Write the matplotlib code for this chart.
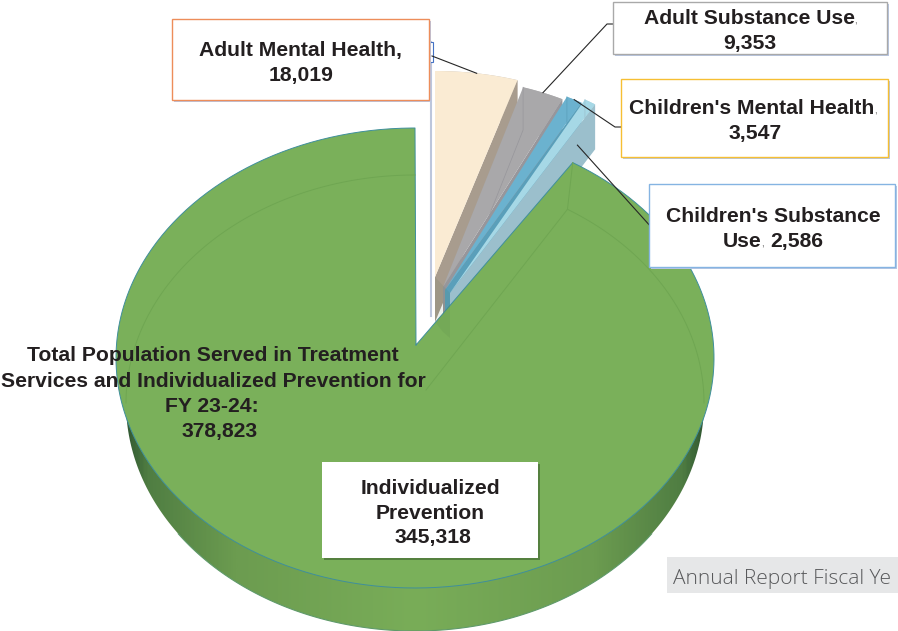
import numpy as np
import matplotlib
matplotlib.use("Agg")
from matplotlib import pyplot as plt
from matplotlib.colors import LinearSegmentedColormap
from matplotlib.patches import Polygon, Rectangle

# data
labels = ["Adult Mental Health", "Adult Substance Use", "Children's Mental Health", "Children's Substance Use"]
values = [18019, 9353, 3547, 2586]
prevention = 345318
total = 378823

# look of the small slices
colors = ["#faebd3", "#a9a8aa", "#6bb2cf", "#a6d8e6"]
wall_colors = ["#a89c8e", "#97969b", "#5a9fba", "#9bbfcc"]
apexes = [(435, 277), (443, 287), (445, 290), (450, 293)]
radii = [(280, 206), (272, 209), (278, 215), (275, 222)]
DEPTH = 45

GREEN = "#7ab05a"
EDGE = "#3f8f9c"
TXT = "#231f20"

plt.rcParams["font.family"] = ["Liberation Sans", "DejaVu Sans"]
FS = 15.2

fig = plt.figure(figsize=(8.98, 6.31), dpi=100)
ax = fig.add_axes([0, 0, 1, 1])
ax.set_xlim(0, 898)
ax.set_ylim(631, 0)
ax.axis("off")


def rim(center, r, deg):
    t = np.radians(deg)
    return np.column_stack([center[0] + r[0] * np.sin(t), center[1] - r[1] * np.cos(t)])


# angles follow the values
sweeps = [360 * v / total for v in values]
edges = np.concatenate([[0], np.cumsum(sweeps)])
small_sweep = edges[-1]

# green pie geometry
top_c, top_r = (415, 358), (299, 230)
bot_c, bot_r = (415, 403), (289, 228)
green_apex = (416, 345)

# side wall of the pie with a horizontal gradient
wall_cmap = LinearSegmentedColormap.from_list(
    "wall", [(0, "#24482b"), (0.05, "#4f7d42"), (0.2, "#6c9c50"), (0.5, "#79ad58"),
             (0.8, "#6c9c50"), (0.95, "#4f7d42"), (1, "#24482b")])
grad = np.linspace(0, 1, 400).reshape(1, -1)
im = ax.imshow(grad, cmap=wall_cmap, extent=(top_c[0] - top_r[0], top_c[0] + top_r[0], 631, 340),
               aspect="auto", zorder=1)
ax.set_xlim(0, 898)
ax.set_ylim(631, 0)
wall_pts = np.vstack([[[top_c[0] + top_r[0], top_c[1]]],
                      rim(bot_c, bot_r, np.linspace(90, 270, 200)),
                      [[top_c[0] - top_r[0], top_c[1]]]])
wall_poly = Polygon(wall_pts, closed=True, transform=ax.transData, fc="none", ec="none")
ax.add_patch(wall_poly)
im.set_clip_path(wall_poly)
ax.plot(*rim(bot_c, bot_r, np.linspace(125, 235, 120)).T, color="#5f9a6a", lw=0.8, zorder=1.5)

# thin line and small tab behind the orange box
ax.plot([430.5, 430.5], [42, 316], color="#bcc6dc", lw=1.5, zorder=1)
ax.add_patch(Rectangle((428, 42), 5, 20, fc="white", ec="#4472c4", lw=0.8, zorder=1))

# exploded slices
down = np.array([0, DEPTH])
for i in range(len(values)):
    th = np.linspace(edges[i], edges[i + 1], 20)
    c, r = apexes[i], radii[i]
    top = rim(c, r, th)
    end = top[-1]
    # far end wall, next slice covers most of it
    ax.add_patch(Polygon([end, c, np.array(c) + down, end + down], fc=wall_colors[i], ec="none", zorder=2 + i * 0.1))
    # outer rim wall
    ax.add_patch(Polygon(np.vstack([top, (top + down)[::-1]]), fc=wall_colors[i], ec="none", alpha=0.7, zorder=2 + i * 0.1))
    ax.add_patch(Polygon(np.vstack([[c], top]), fc=colors[i], ec="none", zorder=2.05 + i * 0.1))
    # see-through bottom outline
    if i:
        ax.plot(*np.vstack([[top[0]], [top[0] + down * 0.95], [np.array(c) + down]]).T,
                color=wall_colors[i], lw=0.5, zorder=2.07 + i * 0.1)

# green top face
th = np.linspace(small_sweep, 360, 500)
top_arc = rim(top_c, top_r, th)
ax.add_patch(Polygon(np.vstack([[green_apex], top_arc]), fc=GREEN, ec="none", zorder=3))
ax.plot(*np.vstack([[green_apex], top_arc, [green_apex]]).T, color=EDGE, lw=0.7, zorder=3.1)

# slice tips showing through the green
tips = [apexes[0], np.array(apexes[0]) + down, np.array(apexes[1]) + down, np.array(apexes[3]) + down, apexes[3]]
ax.add_patch(Polygon(tips, fc="#3f6a3a", ec="none", alpha=0.09, zorder=3.15))

# faint bottom outline seen through the green
bot_start = rim(bot_c, bot_r, small_sweep)[0]
top_start = top_arc[0]
line_kw = dict(color="#6fa652", lw=0.7, zorder=3.2)
ax.plot(*rim(bot_c, bot_r, np.linspace(small_sweep, 90, 80)).T, **line_kw)
ax.plot(*rim(bot_c, bot_r, np.linspace(270, 360, 80)).T, **line_kw)
ax.plot([top_start[0], bot_start[0]], [top_start[1], bot_start[1]], **line_kw)
ax.plot([bot_start[0], green_apex[0] + 10], [bot_start[1], green_apex[1] + DEPTH], **line_kw)

# leader lines, ending on the slices
mids = [(edges[i] + edges[i + 1]) / 2 for i in range(4)]
hits = [rim(apexes[i], radii[i], mids[i])[0] for i in range(3)]
c3 = rim(apexes[3], (radii[3][0] * 0.91, radii[3][1] * 0.91), mids[3])[0] + [0, 26]
leaders = [[(432, 56), hits[0]],
           [(613, 24), (607, 24), hits[1]],
           [(621, 127), (615, 127), hits[2]],
           [(652, 228), c3]]
for pts in leaders:
    ax.plot(*np.array(pts).T, color="#262626", lw=0.8, zorder=5)


# label boxes
def box(x0, y0, x1, y1, ec, shadow="#b9c7e4"):
    ax.add_patch(Rectangle((x0 + 2, y0 + 2), x1 - x0, y1 - y0, fc=shadow, ec="none", zorder=6))
    ax.add_patch(Rectangle((x0, y0), x1 - x0, y1 - y0, fc="white", ec=ec, lw=1.0, zorder=6.1))


box(172, 19, 429, 100, "#ed8d5a")
box(613, 2, 887, 54, "#a9a9a9")
box(621, 79, 888, 157, "#f6bf33")
box(649, 184, 895, 267, "#85b4e2")
box(322, 462, 538, 558, "none", shadow="#55803f")
ax.add_patch(Rectangle((667, 557), 231, 36, fc="#e6e7e8", ec="none", zorder=6))

kw = dict(fontsize=FS, fontweight="bold", color=TXT, ha="center", va="baseline", zorder=7)
fmt = lambda v: f"{v:,}"


def small_comma(t):
    ax.annotate(",", xy=(1, 0.12), xycoords=t, fontsize=7, color="#555555", va="bottom", ha="left", zorder=7)


ax.text(300.5, 56, labels[0] + ",", **kw)
ax.text(301, 81, fmt(values[0]), **kw)

t = ax.text(749, 24, labels[1], **kw)
small_comma(t)
ax.text(750, 49, fmt(values[1]), **kw)

t = ax.text(752, 114, labels[2], **kw)
small_comma(t)
ax.text(755, 139, fmt(values[2]), **kw)

ax.text(773, 222, "Children's Substance", **kw)
t = ax.text(761, 247, "Use", **{**kw, "ha": "right"})
small_comma(t)
ax.text(770, 247, fmt(values[3]), **{**kw, "ha": "left"})

ax.text(430, 494, "Individualized", **kw)
ax.text(430, 519, "Prevention", **kw)
ax.text(433, 543, fmt(prevention), **kw)

ax.text(213, 361, "Total Population Served in Treatment", **kw)
ax.text(213, 387, "Services and Individualized Prevention for", **kw)
ax.text(212, 412, "FY 23-24:", **kw)
ax.text(219.5, 437, fmt(total), **kw)

# the reference crops this footer at the page edge
ax.text(673, 584, "Annual Report Fiscal Ye", fontsize=15, family="Open Sans", fontweight="light",
        color="#58595b", ha="left", va="baseline", zorder=7)

fig.savefig("out.png", dpi=100)
